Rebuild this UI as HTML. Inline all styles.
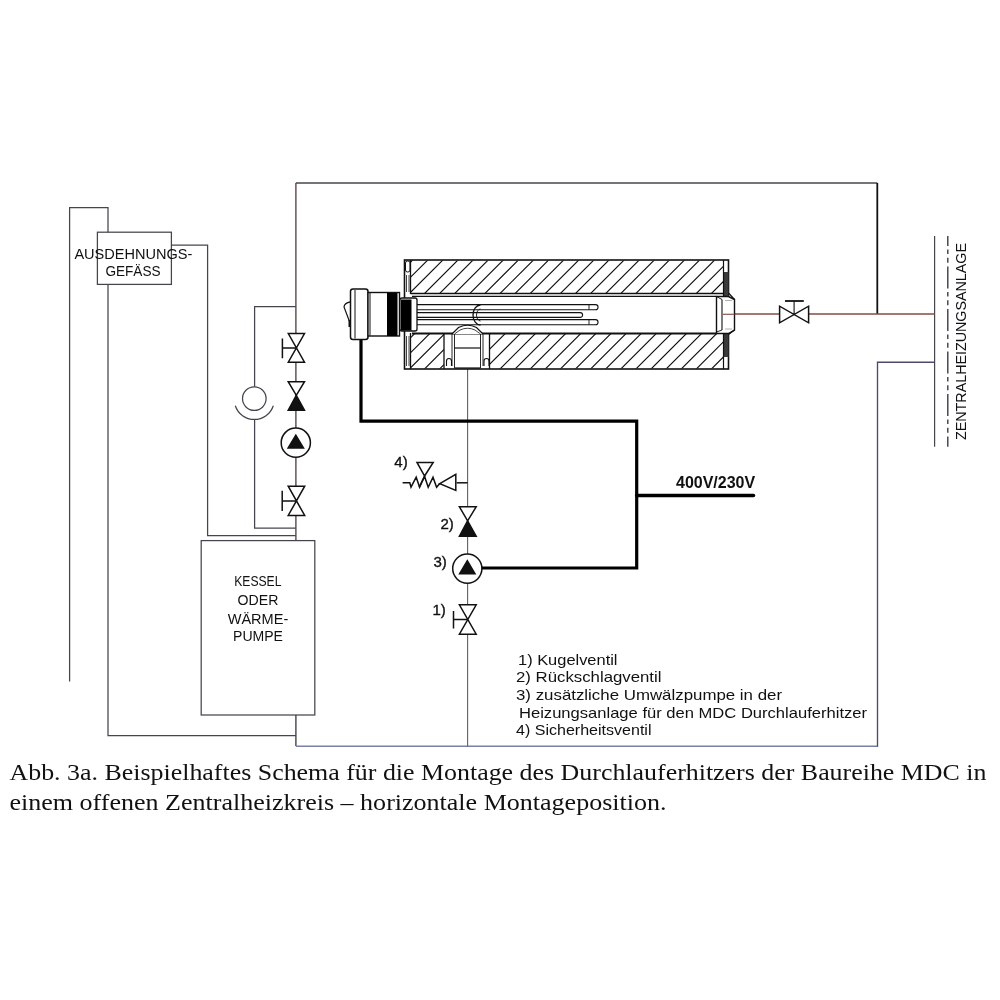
<!DOCTYPE html>
<html><head><meta charset="utf-8">
<style>
html,body{margin:0;padding:0;background:#fff;width:1000px;height:1000px;overflow:hidden}
svg{display:block;will-change:transform}
.g{font-family:"Liberation Sans",sans-serif}
.s{font-family:"Liberation Serif",serif}
</style></head><body>
<svg width="1000" height="1000" viewBox="0 0 1000 1000">
<defs>
<clipPath id="hatchTop"><rect x="410.5" y="260.5" width="313" height="33"/></clipPath>
<clipPath id="hatchBot"><path d="M410.5,334 H444 V368.5 H410.5Z M489.5,334 H723.5 V368.5 H489.5Z"/></clipPath>
</defs>
<rect width="1000" height="1000" fill="#fff"/>

<!-- left network -->
<g fill="none" stroke="#45454f" stroke-width="1.25">
<path d="M69.6,681.5 V207.5 H108 V232.2"/>
<rect x="97.4" y="232.2" width="74" height="52.2"/>
<path d="M108,284.4 V735.5 H295.8"/>
<path d="M171.4,245 H207.6 V535.6 H295.8"/>
<path d="M254.6,419 V528 H295.8"/>
<path d="M295.8,306.6 H254.6 V386.8"/>
<circle cx="254.3" cy="398.6" r="11.8"/>
<path d="M235.3,405.7 A20,20 0 0,0 273.3,405.7"/>
<rect x="201.2" y="540.6" width="113.6" height="174.4"/>
</g>
<!-- main left vertical + top + right -->
<path d="M295.9,540.6 V183" fill="none" stroke="#573f40" stroke-width="1.35"/>
<path d="M295.9,183 H877.3" fill="none" stroke="#48444f" stroke-width="1.35"/>
<path d="M877.3,183 V314" fill="none" stroke="#111" stroke-width="1.8"/>
<path d="M295.9,715 V746.1" fill="none" stroke="#3c3c48" stroke-width="1.35"/>
<path d="M295.9,746.2 H877.5" fill="none" stroke="#7880a8" stroke-width="1.5"/>
<path d="M877.5,746.8 V362.2 H934.6" fill="none" stroke="#4c4a68" stroke-width="1.35"/>
<!-- right vertical lines -->
<path d="M934.6,236 V446.7" stroke="#45454f" stroke-width="1.2"/>
<path d="M947.8,236 V446.7" stroke="#3c3c48" stroke-width="1.4" stroke-dasharray="22 3.6 4.5 3.6 5 3.8" stroke-dashoffset="12"/>
<!-- red line -->
<path d="M734.5,314 H934.6" stroke="#7e4e44" stroke-width="1.3"/>
<!-- center vertical -->
<path d="M467.6,369 V746.2" stroke="#606068" stroke-width="1.1"/>

<!-- left column valves -->
<g stroke="#111" stroke-width="1.5" fill="#fff">
<!-- gate valve 1 -->
<path d="M288.3,333.6 H304.5 L288.3,362.2 H304.5 Z"/>
<path d="M282.4,338.4 V358.3 M282.4,347.9 H295.8" fill="none"/>
<!-- check valve -->
<path d="M288.2,381.7 H304.5 L296.3,395.3 Z"/>
<path d="M296.3,395.3 L304.5,410.3 H288.2 Z" fill="#111"/>
<!-- pump -->
<circle cx="295.8" cy="442.7" r="14.6"/>
<path d="M295.8,435.2 L303.5,448.1 H288.1 Z" fill="#111"/>
<!-- gate valve 2 -->
<path d="M288.2,486.2 H304.7 L288.2,515.5 H304.7 Z"/>
<path d="M282.2,490.7 V511 M282.2,501 H295.8" fill="none"/>
</g>

<!-- center column valves -->
<g stroke="#111" stroke-width="1.5" fill="#fff">
<!-- check valve 2) -->
<path d="M459.4,506.8 H476.2 L467.6,520.8 Z"/>
<path d="M467.6,520.8 L476.2,536.2 H459.4 Z" fill="#111"/>
<!-- pump 3) -->
<circle cx="467.3" cy="568.6" r="14.6"/>
<path d="M467.3,560.7 L475,573.8 H459.6 Z" fill="#111"/>
<!-- gate valve 1) -->
<path d="M459.4,604.8 H476.2 L459.4,634.2 H476.2 Z"/>
<path d="M453.5,611 V628.6 M453.5,619.5 H467.6" fill="none"/>
<!-- safety valve 4) -->
<path d="M456.6,482.8 H467.6" fill="none"/>
<path d="M455.8,474.4 V490.4 L439.8,483.6 Z"/>
<path d="M417,462.4 H433.2 L424.6,476 Z"/>
<path d="M402.6,482.8 H409.8 L411,487.2 L416.2,477.2 L419.6,487.2 L424.6,476.4 L428.2,487.2 L433,477.2 L436.6,487.2 L439.8,483.6" fill="none" stroke-linejoin="miter"/>
<path d="M424.6,476 L419.2,487.2" fill="none"/>
</g>

<!-- gate valve with T handle on red line -->
<g stroke="#111" stroke-width="1.5" fill="#fff">
<path d="M779.6,306.2 V322.8 L808.6,306.2 V322.8 Z"/>
<path d="M794.1,301 V314.5" fill="none" stroke-width="1.1"/>
<path d="M785,301 H803.8" fill="none" stroke-width="1.8"/>
</g>

<!-- cable -->
<g fill="none" stroke="#000" stroke-width="3.2">
<path d="M361,339 V421.2 H636.7 V568 H481.8"/>
<path d="M636.7,495.5 H753.5" stroke-width="3.5" stroke-linecap="round"/>
</g>

<!-- heater -->
<g id="heater" fill="none" stroke="#111" stroke-width="1.3">
<rect x="404.5" y="260" width="324" height="109" fill="#fff" stroke-width="1.6"/>
<g clip-path="url(#hatchTop)" stroke-width="1.15"><path d="M402.6,255L282.6,375M417.7,255L297.7,375M432.8,255L312.8,375M447.9,255L327.9,375M463.0,255L343.0,375M478.1,255L358.1,375M493.2,255L373.2,375M508.3,255L388.3,375M523.4,255L403.4,375M538.5,255L418.5,375M553.6,255L433.6,375M568.7,255L448.7,375M583.8,255L463.8,375M598.9,255L478.9,375M614.0,255L494.0,375M629.1,255L509.1,375M644.2,255L524.2,375M659.3,255L539.3,375M674.4,255L554.4,375M689.5,255L569.5,375M704.6,255L584.6,375M719.7,255L599.7,375M734.8,255L614.8,375M749.9,255L629.9,375M765.0,255L645.0,375M780.1,255L660.1,375M795.2,255L675.2,375M810.3,255L690.3,375M825.4,255L705.4,375M840.5,255L720.5,375M855.6,255L735.6,375"/></g>
<g clip-path="url(#hatchBot)" stroke-width="1.15"><path d="M402.6,255L282.6,375M417.7,255L297.7,375M432.8,255L312.8,375M447.9,255L327.9,375M463.0,255L343.0,375M478.1,255L358.1,375M493.2,255L373.2,375M508.3,255L388.3,375M523.4,255L403.4,375M538.5,255L418.5,375M553.6,255L433.6,375M568.7,255L448.7,375M583.8,255L463.8,375M598.9,255L478.9,375M614.0,255L494.0,375M629.1,255L509.1,375M644.2,255L524.2,375M659.3,255L539.3,375M674.4,255L554.4,375M689.5,255L569.5,375M704.6,255L584.6,375M719.7,255L599.7,375M734.8,255L614.8,375M749.9,255L629.9,375M765.0,255L645.0,375M780.1,255L660.1,375M795.2,255L675.2,375M810.3,255L690.3,375M825.4,255L705.4,375M840.5,255L720.5,375M855.6,255L735.6,375"/></g>
<!-- left flange -->
<path d="M410.5,260 V294 M410.5,333 V369"/>
<rect x="405.5" y="261" width="4.5" height="11" rx="2" stroke-width="1"/>
<path d="M406.5,275 V292 M409,275 V292 M406.5,336 V366 M409,336 V366" stroke-width="0.8"/>
<!-- bore -->
<path d="M410.5,293.5 H723.5" stroke-width="1.3"/>
<path d="M412,296.3 H716.5" stroke-width="1.3"/>
<path d="M412,333.5 H716.5" stroke-width="1.8"/>
<!-- rods -->
<path d="M417,304.6 H595.5 A2.55,2.55 0 0 1 595.5,309.7 H417" stroke-width="1.1"/>
<path d="M417,312.6 H580.2 A2.4,2.4 0 0 1 580.2,317.4 H417" stroke-width="1.1"/>
<path d="M417,319.6 H595.5 A2.55,2.55 0 0 1 595.5,324.7 H417" stroke-width="1.1"/>
<path d="M589,304.6 V309.7 M589,319.6 V324.7" stroke-width="0.9"/>
<path d="M480.5,305 A7.5,10 0 0 0 480.5,325" stroke-width="1.3"/>
<path d="M480.5,309 A4,6 0 0 0 480.5,321" stroke-width="0.9"/>
<!-- port -->
<path d="M444,333.5 V369 M489.5,333.5 V369" stroke-width="1.3"/>
<path d="M452,334 V366 M454.5,334 V368 M480.5,334 V368 M483,334 V366" stroke-width="0.9"/>
<path d="M452,334 L458.5,327.5 Q467.5,323 476.5,327.5 L483,334" stroke-width="1.2" fill="#fff"/>
<path d="M454.5,334 L460,330 Q467.5,326.5 475,330 L480.5,334" stroke-width="0.8"/>
<path d="M454.5,348 H480.5" stroke-width="1.2"/>
<path d="M454.5,368 H480.5" stroke-width="1.2"/>
<path d="M446.5,366 V361 A2.5,2.5 0 0 1 451.5,361 V366 M484,366 V361 A2.5,2.5 0 0 1 489,361 V366" stroke-width="1.1"/>
<!-- right flange -->
<rect x="724" y="272" width="4.5" height="85" fill="#3a3a3a" stroke="none"/>
<path d="M723.5,260 V369" stroke-width="1.2"/>
<!-- end fitting -->
<path d="M716.5,296.5 H728.5 L734.5,299.5 V330 L728.5,333.5 H716.5 Z" fill="#fff" stroke-width="1.4"/>
<path d="M728.5,293 L734.5,299.5 M728.5,334.5 L734.5,330" stroke-width="1.2"/>
<path d="M722,299.5 V330" stroke-width="1.1"/>
<path d="M716.5,296.5 L722,299.5 M716.5,332 L722,330" stroke-width="0.9"/>
<path d="M722.5,314.3 H734.5" stroke="#8a5850" stroke-width="1.2"/>
<path d="M725,300.5 H732 M725,329 H732" stroke="#999" stroke-width="0.8"/>
<!-- head -->
<path d="M350.5,301.8 Q344.2,303 344,307 L349.2,320.8 L350.5,321" fill="#fff" stroke-width="1.2"/>
<path d="M349.3,320 V327" stroke-width="1.6"/>
<rect x="350.5" y="289" width="17.5" height="50.5" rx="2.5" fill="#fff" stroke-width="1.5"/>
<path d="M355,290 V338.5" stroke-width="1"/>
<rect x="368" y="292.5" width="31.5" height="43.5" fill="#fff" stroke-width="1.4"/>
<path d="M370,293 V335.5" stroke-width="1"/>
<rect x="387" y="293" width="10.5" height="43" fill="#000" stroke="none"/>
<rect x="400" y="298" width="17" height="33" rx="2" fill="#fff" stroke-width="1.3"/>
<rect x="401" y="299.5" width="10.5" height="31" fill="#000" stroke="none"/>
</g>
<!-- texts -->
<g class="g" fill="#111" font-size="14">
<text x="74.4" y="259" textLength="118" lengthAdjust="spacingAndGlyphs">AUSDEHNUNGS-</text>
<text x="105.4" y="276.4" textLength="55.2" lengthAdjust="spacingAndGlyphs">GEFÄSS</text>
<text x="234.2" y="586.3" textLength="47.3" lengthAdjust="spacingAndGlyphs">KESSEL</text>
<text x="237.6" y="605.3" textLength="40.8" lengthAdjust="spacingAndGlyphs">ODER</text>
<text x="227.7" y="623.5" textLength="60.6" lengthAdjust="spacingAndGlyphs">WÄRME-</text>
<text x="233" y="641" textLength="50" lengthAdjust="spacingAndGlyphs">PUMPE</text>
</g>
<g class="g" fill="#111" stroke="#111" stroke-width="0.35" font-size="15">
<text x="394.3" y="467">4)</text>
<text x="440.5" y="529">2)</text>
<text x="433.5" y="567">3)</text>
<text x="432.5" y="615">1)</text>
</g>
<text class="g" x="676" y="488" font-size="16" font-weight="bold" fill="#111">400V/230V</text>
<g class="g" fill="#111" font-size="14.5">
<text x="518" y="665" textLength="99.5" lengthAdjust="spacingAndGlyphs">1) Kugelventil</text>
<text x="516" y="682.4" textLength="145.5" lengthAdjust="spacingAndGlyphs">2) Rückschlagventil</text>
<text x="516" y="700" textLength="266" lengthAdjust="spacingAndGlyphs">3) zusätzliche Umwälzpumpe in der</text>
<text x="519" y="717.6" textLength="348" lengthAdjust="spacingAndGlyphs">Heizungsanlage für den MDC Durchlauferhitzer</text>
<text x="516" y="735" textLength="135.5" lengthAdjust="spacingAndGlyphs">4) Sicherheitsventil</text>
</g>
<text class="g" font-size="14" fill="#111" transform="translate(966.2,440) rotate(-90)" textLength="197" lengthAdjust="spacingAndGlyphs">ZENTRALHEIZUNGSANLAGE</text>
<g class="s" fill="#111" font-size="24">
<text x="9.5" y="780" textLength="977" lengthAdjust="spacingAndGlyphs">Abb. 3a. Beispielhaftes Schema für die Montage des Durchlauferhitzers der Baureihe MDC in</text>
<text x="9.5" y="809.5" textLength="657" lengthAdjust="spacingAndGlyphs">einem offenen Zentralheizkreis – horizontale Montageposition.</text>
</g>
</svg>
</body></html>
